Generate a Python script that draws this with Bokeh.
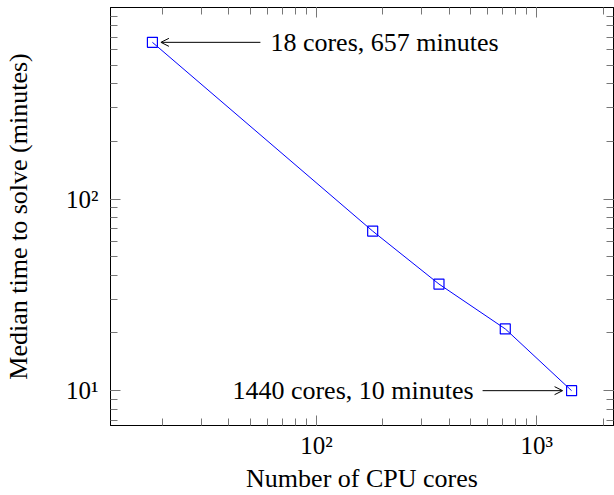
import math
from bokeh.plotting import figure
from bokeh.models import LogAxis, LogTicker, Range1d, Arrow, OpenHead, Label
from bokeh.embed import file_html
from bokeh.resources import INLINE

# ---- data ----
cores = [18, 180, 360, 720, 1440]
minutes = [657, 68, 36, 21, 10]
tick_labels = {10: "10¹", 100: "10²", 1000: "10³"}
blank_labels = {10: "", 100: "", 1000: ""}
x_label = "Number of CPU cores"
y_label = "Median time to solve (minutes)"
first_note = "18 cores, 657 minutes"
last_note = "1440 cores, 10 minutes"

FONT = "Liberation Serif"
W, H = 614, 495
LEFT, RIGHT, TOP, BOTTOM = 110, 1, 7, 68


def padded(vals, frac=0.1):
    lo, hi = math.log10(min(vals)), math.log10(max(vals))
    pad = frac * (hi - lo)
    return lo - pad, hi + pad


xlo, xhi = padded(cores)
ylo, yhi = padded(minutes)

p = figure(width=W, height=H, x_axis_type="log", y_axis_type="log",
           x_range=Range1d(10 ** xlo, 10 ** xhi), y_range=Range1d(10 ** ylo, 10 ** yhi),
           output_backend="svg", toolbar_location=None,
           min_border_left=LEFT, min_border_right=RIGHT,
           min_border_top=TOP, min_border_bottom=BOTTOM)
p.grid.visible = False
p.outline_line_color = "black"
p.outline_line_width = 1
p.background_fill_color = "white"
p.border_fill_color = "white"

# mirrored axes (ticks only)
p.add_layout(LogAxis(), "above")
p.add_layout(LogAxis(), "right")

for ax in p.axis:
    ax.ticker = LogTicker(num_minor_ticks=10)
    ax.axis_line_color = "black"
    ax.axis_line_width = 1
    ax.major_tick_in = 10
    ax.major_tick_out = 0
    ax.minor_tick_in = 7
    ax.minor_tick_out = 0
    ax.major_tick_line_color = "#777777"
    ax.minor_tick_line_color = "#777777"
    ax.major_tick_line_width = 1
    ax.minor_tick_line_width = 1
    ax.major_label_text_font = FONT
    ax.major_label_text_font_size = "25px"
    ax.major_label_text_color = "black"
    ax.axis_label_text_font = FONT
    ax.axis_label_text_font_size = "26px"
    ax.axis_label_text_font_style = "normal"
    ax.axis_label_text_color = "black"

bottom_ax = p.below[0]
left_ax = p.left[0]
for ax in (bottom_ax, left_ax):
    ax.major_label_overrides = tick_labels
for ax in (p.above[0], p.right[0]):
    ax.major_label_overrides = blank_labels
    ax.major_label_standoff = 0
    ax.axis_label = None

bottom_ax.axis_label = x_label
bottom_ax.major_label_standoff = 6
bottom_ax.axis_label_standoff = 2
left_ax.axis_label = y_label
left_ax.major_label_standoff = 12
left_ax.axis_label_standoff = 30

p.line(cores, minutes, line_color="#0000ff", line_width=1)
p.scatter(cores, minutes, marker="square", size=10, fill_color=None,
          line_color="#0000ff", line_width=1.2)

# annotations (offsets in screen pixels converted on the log scale)
ppd = (W - LEFT - RIGHT) / (xhi - xlo)


def shift(x, px):
    return x * 10 ** (px / ppd)


p.add_layout(Arrow(end=OpenHead(size=8, line_width=1, line_color="black"),
                   x_start=shift(cores[0], 108), y_start=minutes[0],
                   x_end=shift(cores[0], 8.5), y_end=minutes[0],
                   line_color="black", line_width=1))
p.add_layout(Label(x=cores[0], y=minutes[0], x_offset=118, text=first_note,
                   text_font=FONT, text_font_size="26px", text_color="black",
                   text_align="left", text_baseline="middle"))

p.add_layout(Arrow(end=OpenHead(size=8, line_width=1, line_color="black"),
                   x_start=shift(cores[-1], -89), y_start=minutes[-1],
                   x_end=shift(cores[-1], -9), y_end=minutes[-1],
                   line_color="black", line_width=1))
p.add_layout(Label(x=cores[-1], y=minutes[-1], x_offset=-98, text=last_note,
                   text_font=FONT, text_font_size="26px", text_color="black",
                   text_align="right", text_baseline="middle"))

open("out.html", "w").write(file_html(p, INLINE))
